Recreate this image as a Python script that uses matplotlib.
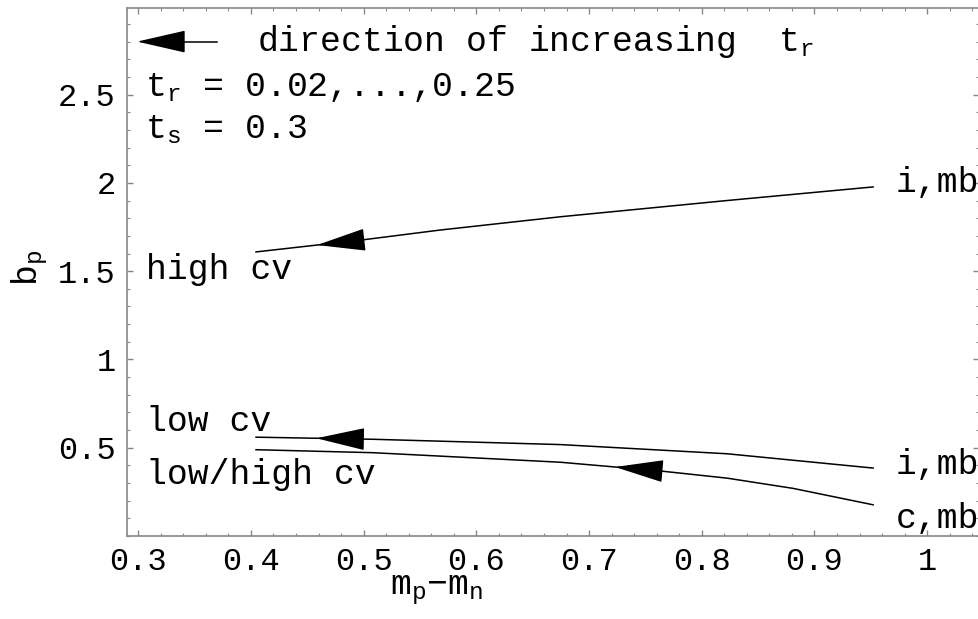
import matplotlib
matplotlib.use('Agg')
import matplotlib.pyplot as plt
import numpy as np
from matplotlib.ticker import MultipleLocator

plt.rcParams['font.family'] = ['Liberation Mono', 'DejaVu Sans']
plt.rcParams['mathtext.fontset'] = 'custom'
plt.rcParams['mathtext.rm'] = 'Liberation Mono'
plt.rcParams['mathtext.it'] = 'Liberation Mono'

# curve data (x = m_p - m_n, y = b_p)
x_high = [0.4045, 0.4963, 0.568, 0.6745, 0.8224, 0.952]
y_high = [1.609, 1.675, 1.733, 1.808, 1.900, 1.977]

x_low = [0.4045, 0.5085, 0.6745, 0.8224, 0.952]
y_low = [0.560, 0.548, 0.518, 0.466, 0.385]

x_lowhigh = [0.4045, 0.5085, 0.6745, 0.761, 0.8224, 0.881, 0.952]
y_lowhigh = [0.489, 0.472, 0.418, 0.370, 0.328, 0.270, 0.177]

# arrow tip / base x positions on each curve
arrow_high = (0.4586, 0.4963)
arrow_low = (0.458, 0.496)
arrow_lowhigh = (0.723, 0.761)

fig = plt.figure(figsize=(9.79, 6.19), dpi=100)
ax = fig.add_axes([0.1297, 0.134, 0.8703, 0.853])

fs = 25
tfs = 23
head = dict(arrowstyle='-|>,head_length=1.05,head_width=0.24', color='k',
            lw=1.0, mutation_scale=30, shrinkA=0, shrinkB=0)

for xs, ys, arr in [(x_high, y_high, arrow_high), (x_low, y_low, arrow_low),
                    (x_lowhigh, y_lowhigh, arrow_lowhigh)]:
    ax.plot(xs, ys, color='k', lw=1.1)
    tip, base = arr
    ax.annotate('', xy=(tip, np.interp(tip, xs, ys)),
                xytext=(base, np.interp(base, xs, ys)), arrowprops=head)

# direction legend arrow
ax.plot([0.339, 0.370], [2.80, 2.80], color='k', lw=1.1)
ax.annotate('', xy=(0.299, 2.80), xytext=(0.339, 2.80), arrowprops=head)
ax.text(0.405, 2.80, r'direction of increasing  $\mathrm{t}_\mathrm{r}$', fontsize=fs, va='center')
ax.text(0.306, 2.54, r'$\mathrm{t}_\mathrm{r}$ = 0.02,...,0.25', fontsize=fs, va='center')
ax.text(0.306, 2.30, r'$\mathrm{t}_\mathrm{s}$ = 0.3', fontsize=fs, va='center')

ax.text(0.307, 1.51, 'high cv', fontsize=fs, va='center')
ax.text(0.307, 0.647, 'low cv', fontsize=fs, va='center')
ax.text(0.307, 0.347, 'low/high cv', fontsize=fs, va='center')
ax.text(0.972, 2.0, 'i,mb', fontsize=fs, va='center')
ax.text(0.972, 0.404, 'i,mb', fontsize=fs, va='center')
ax.text(0.972, 0.10, 'c,mb', fontsize=fs, va='center')

ax.set_xlim(0.290, 1.046)
ax.set_ylim(0.0, 2.99)
ax.set_xticks([0.3, 0.4, 0.5, 0.6, 0.7, 0.8, 0.9, 1.0])
ax.set_xticklabels(['0.3', '0.4', '0.5', '0.6', '0.7', '0.8', '0.9', '1'])
ax.set_yticks([0.5, 1.0, 1.5, 2.0, 2.5])
ax.set_yticklabels(['0.5', '1', '1.5', '2', '2.5'])
ax.xaxis.set_minor_locator(MultipleLocator(0.02))
ax.yaxis.set_minor_locator(MultipleLocator(0.1))
ax.tick_params(which='both', direction='in', top=True, right=True,
               color='#888888', labelsize=tfs, pad=8)
ax.tick_params(which='major', length=4.5, width=1.0)
ax.tick_params(which='minor', length=2.5, width=0.8)
for s in ax.spines.values():
    s.set_color('#888888')
    s.set_linewidth(1.2)

fig.text(437 / 979, 1 - 590 / 619, r'$\mathrm{m}_\mathrm{p}$$-$$\mathrm{m}_\mathrm{n}$',
         fontsize=fs, ha='center', va='center')
fig.text(30 / 979, 1 - 268 / 619, r'$\mathrm{b}_\mathrm{p}$', fontsize=fs,
         ha='center', va='center', rotation=90)

fig.savefig('out.png', dpi=100)
